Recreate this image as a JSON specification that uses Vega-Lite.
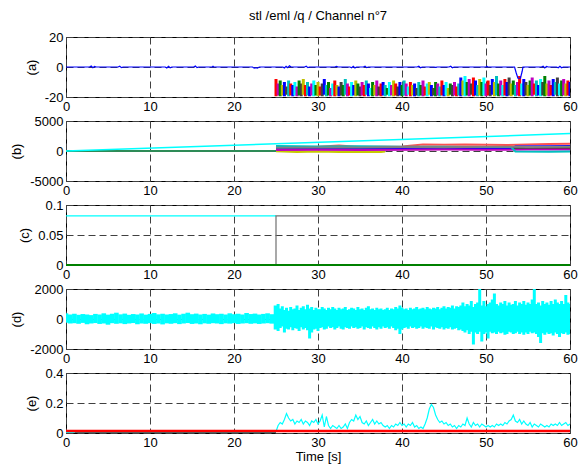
{
  "$schema": "https://vega.github.io/schema/vega-lite/v6.json",
  "padding": {"left": 10, "top": 9, "right": 6, "bottom": 2},
  "bounds": "flush",
  "spacing": 24,
  "background": "white",
  "resolve": {"scale": {"color": "independent"}},
  "config": {
    "view": {"stroke": "black", "strokeWidth": 1},
    "font": "Liberation Sans",
    "axis": {
      "labelFont": "Liberation Sans", "labelFontSize": 13, "labelColor": "#000",
      "ticks": false, "domain": false, "grid": true,
      "gridColor": "#404040", "gridDash": [7, 4], "gridOpacity": 1, "gridWidth": 1,
      "labelFlush": false, "labelOverlap": false, "labelPadding": 3,
      "titleFont": "Liberation Sans", "titleFontSize": 13, "titleFontWeight": "normal", "titleColor": "#000"
    },
    "axisX": {"titlePadding": 1},
    "axisY": {"titlePadding": 6}
  },
  "datasets": {
    "aBlue": [
      {"t":0,"v":0},{"t":2.8,"v":0},{"t":3,"v":0.6},{"t":3.2,"v":-0.5},{"t":3.4,"v":0.4},{"t":3.6,"v":0},
      {"t":6.2,"v":0},{"t":6.4,"v":0.5},{"t":6.6,"v":-0.4},{"t":6.8,"v":0},
      {"t":11.8,"v":0},{"t":12,"v":-0.6},{"t":12.2,"v":0.5},{"t":12.4,"v":-0.5},{"t":12.6,"v":0},
      {"t":15.2,"v":0},{"t":15.4,"v":0.6},{"t":15.6,"v":-0.4},{"t":15.8,"v":0},
      {"t":17.4,"v":0},{"t":17.5,"v":0.5},{"t":17.6,"v":0},
      {"t":22.2,"v":0},{"t":22.4,"v":-0.8},{"t":22.6,"v":-0.4},{"t":22.8,"v":-0.8},{"t":23,"v":0},
      {"t":25.8,"v":0},{"t":26,"v":-0.6},{"t":26.2,"v":0.5},{"t":26.4,"v":-0.4},{"t":26.6,"v":0.8},{"t":26.8,"v":0},
      {"t":28.4,"v":0},{"t":28.6,"v":0.5},{"t":28.8,"v":-0.4},{"t":29,"v":0},
      {"t":32,"v":0},{"t":32.2,"v":0.4},{"t":32.4,"v":0},
      {"t":33.8,"v":0},{"t":34,"v":-0.5},{"t":34.2,"v":0.4},{"t":34.4,"v":-0.6},{"t":34.6,"v":0},
      {"t":35.4,"v":0},{"t":35.6,"v":0.5},{"t":35.8,"v":-0.4},{"t":36,"v":0},
      {"t":41.8,"v":0},{"t":42,"v":0.5},{"t":42.2,"v":-0.5},{"t":42.4,"v":0},
      {"t":43.8,"v":0},{"t":44,"v":-0.3},{"t":44.2,"v":0},
      {"t":45.6,"v":0},{"t":45.8,"v":0.5},{"t":46,"v":-0.5},{"t":46.2,"v":0},
      {"t":50,"v":0},{"t":50.1,"v":0.5},{"t":50.2,"v":0},
      {"t":53.4,"v":0},{"t":53.6,"v":-4},{"t":53.8,"v":-7.5},{"t":54.1,"v":-7.5},{"t":54.3,"v":-3},{"t":54.4,"v":0},
      {"t":56.6,"v":0},{"t":56.8,"v":0.5},{"t":57,"v":-0.6},{"t":57.2,"v":0.4},{"t":57.4,"v":0},
      {"t":58.4,"v":0},{"t":58.6,"v":-0.5},{"t":58.8,"v":0.5},{"t":59,"v":-0.5},{"t":59.2,"v":0},{"t":60,"v":0}
    ],
    "aBand": [
      {"t":25,"lo":-19.5,"hi":-8,"c":0},{"t":25.25,"lo":-19,"hi":-11,"c":3},{"t":25.5,"lo":-19.5,"hi":-9,"c":1},{"t":25.75,"lo":-19,"hi":-12,"c":5},
      {"t":26,"lo":-19.5,"hi":-10,"c":2},{"t":26.25,"lo":-18.5,"hi":-13,"c":6},{"t":26.5,"lo":-19.5,"hi":-9,"c":4},{"t":26.75,"lo":-19,"hi":-11,"c":0},
      {"t":27,"lo":-19.5,"hi":-12,"c":2},{"t":27.25,"lo":-19,"hi":-10,"c":7},{"t":27.5,"lo":-19.5,"hi":-13,"c":3},{"t":27.75,"lo":-19,"hi":-9,"c":1},
      {"t":28,"lo":-19.5,"hi":-11,"c":6},{"t":28.25,"lo":-18.5,"hi":-8,"c":5},{"t":28.5,"lo":-19.5,"hi":-12,"c":0},{"t":28.75,"lo":-19,"hi":-10,"c":4},
      {"t":29,"lo":-19.5,"hi":-13,"c":2},{"t":29.25,"lo":-19,"hi":-11,"c":3},{"t":29.5,"lo":-19.5,"hi":-9,"c":7},{"t":29.75,"lo":-19,"hi":-12,"c":1},
      {"t":30,"lo":-19.5,"hi":-10,"c":5},{"t":30.25,"lo":-19,"hi":-13,"c":0},{"t":30.5,"lo":-19.5,"hi":-11,"c":6},{"t":30.75,"lo":-18.5,"hi":-8,"c":2},
      {"t":31,"lo":-19.5,"hi":-12,"c":4},{"t":31.25,"lo":-19,"hi":-10,"c":1},{"t":31.5,"lo":-19.5,"hi":-14,"c":3},{"t":31.75,"lo":-19,"hi":-11,"c":7},
      {"t":32,"lo":-19.5,"hi":-9,"c":0},{"t":32.25,"lo":-19,"hi":-12,"c":5},{"t":32.5,"lo":-19.5,"hi":-13,"c":2},{"t":32.75,"lo":-19,"hi":-10,"c":6},
      {"t":33,"lo":-19.5,"hi":-12,"c":1},{"t":33.25,"lo":-18.5,"hi":-8,"c":4},{"t":33.5,"lo":-19.5,"hi":-11,"c":3},{"t":33.75,"lo":-19,"hi":-13,"c":0},
      {"t":34,"lo":-19.5,"hi":-10,"c":7},{"t":34.25,"lo":-19,"hi":-12,"c":2},{"t":34.5,"lo":-19.5,"hi":-9,"c":5},{"t":34.75,"lo":-19,"hi":-11,"c":1},
      {"t":35,"lo":-19.5,"hi":-13,"c":6},{"t":35.25,"lo":-19,"hi":-10,"c":3},{"t":35.5,"lo":-19.5,"hi":-12,"c":0},{"t":35.75,"lo":-18.5,"hi":-9,"c":4},
      {"t":36,"lo":-19.5,"hi":-11,"c":2},{"t":36.25,"lo":-19,"hi":-14,"c":7},{"t":36.5,"lo":-19.5,"hi":-10,"c":1},{"t":36.75,"lo":-19,"hi":-12,"c":5},
      {"t":37,"lo":-19.5,"hi":-9,"c":3},{"t":37.25,"lo":-19,"hi":-13,"c":6},{"t":37.5,"lo":-19.5,"hi":-11,"c":0},{"t":37.75,"lo":-19,"hi":-10,"c":2},
      {"t":38,"lo":-19.5,"hi":-12,"c":4},{"t":38.25,"lo":-18.5,"hi":-14,"c":1},{"t":38.5,"lo":-19.5,"hi":-10,"c":7},{"t":38.75,"lo":-19,"hi":-12,"c":3},
      {"t":39,"lo":-19.5,"hi":-9,"c":5},{"t":39.25,"lo":-19,"hi":-11,"c":0},{"t":39.5,"lo":-19.5,"hi":-13,"c":6},{"t":39.75,"lo":-19,"hi":-10,"c":2},
      {"t":40,"lo":-19.5,"hi":-12,"c":1},{"t":40.25,"lo":-19,"hi":-9,"c":4},{"t":40.5,"lo":-19.5,"hi":-11,"c":3},{"t":40.75,"lo":-18.5,"hi":-13,"c":7},
      {"t":41,"lo":-19.5,"hi":-10,"c":0},{"t":41.25,"lo":-19,"hi":-12,"c":5},{"t":41.5,"lo":-19.5,"hi":-11,"c":2},{"t":41.75,"lo":-19,"hi":-14,"c":6},
      {"t":42,"lo":-19.5,"hi":-10,"c":4},{"t":42.25,"lo":-19,"hi":-12,"c":1},{"t":42.5,"lo":-19.5,"hi":-9,"c":3},{"t":42.75,"lo":-19,"hi":-13,"c":0},
      {"t":43,"lo":-19.5,"hi":-11,"c":7},{"t":43.25,"lo":-18.5,"hi":-10,"c":5},{"t":43.5,"lo":-19.5,"hi":-12,"c":2},{"t":43.75,"lo":-19,"hi":-14,"c":6},
      {"t":44,"lo":-19.5,"hi":-10,"c":1},{"t":44.25,"lo":-19,"hi":-11,"c":3},{"t":44.5,"lo":-19.5,"hi":-13,"c":4},{"t":44.75,"lo":-19,"hi":-9,"c":0},
      {"t":45,"lo":-19.5,"hi":-12,"c":2},{"t":45.25,"lo":-19,"hi":-10,"c":7},{"t":45.5,"lo":-19.5,"hi":-14,"c":5},{"t":45.75,"lo":-18.5,"hi":-11,"c":1},
      {"t":46,"lo":-19.5,"hi":-12,"c":6},{"t":46.25,"lo":-19,"hi":-10,"c":3},{"t":46.5,"lo":-19.5,"hi":-13,"c":0},{"t":46.75,"lo":-19,"hi":-11,"c":4},
      {"t":47,"lo":-19.5,"hi":-7,"c":2},{"t":47.25,"lo":-19,"hi":-9,"c":5},{"t":47.5,"lo":-19.5,"hi":-6,"c":7},{"t":47.75,"lo":-19,"hi":-10,"c":1},
      {"t":48,"lo":-19.5,"hi":-8,"c":3},{"t":48.25,"lo":-18.5,"hi":-11,"c":6},{"t":48.5,"lo":-19.5,"hi":-7,"c":0},{"t":48.75,"lo":-19,"hi":-9,"c":2},
      {"t":49,"lo":-19.5,"hi":-12,"c":4},{"t":49.25,"lo":-19,"hi":-8,"c":5},{"t":49.5,"lo":-19.5,"hi":-10,"c":1},{"t":49.75,"lo":-19,"hi":-7,"c":7},
      {"t":50,"lo":-19.5,"hi":-11,"c":3},{"t":50.25,"lo":-19,"hi":-9,"c":0},{"t":50.5,"lo":-19.5,"hi":-12,"c":6},{"t":50.75,"lo":-18.5,"hi":-8,"c":2},
      {"t":51,"lo":-19.5,"hi":-10,"c":5},{"t":51.25,"lo":-19,"hi":-6,"c":4},{"t":51.5,"lo":-19.5,"hi":-11,"c":1},{"t":51.75,"lo":-19,"hi":-9,"c":3},
      {"t":52,"lo":-19.5,"hi":-12,"c":7},{"t":52.25,"lo":-19,"hi":-8,"c":0},{"t":52.5,"lo":-19.5,"hi":-10,"c":2},{"t":52.75,"lo":-19,"hi":-7,"c":6},
      {"t":53,"lo":-19.5,"hi":-11,"c":5},{"t":53.25,"lo":-18.5,"hi":-9,"c":1},{"t":53.5,"lo":-19.5,"hi":-12,"c":4},{"t":53.75,"lo":-19,"hi":-10,"c":3},
      {"t":54,"lo":-19.5,"hi":-6,"c":0},{"t":54.25,"lo":-19,"hi":-11,"c":7},{"t":54.5,"lo":-19.5,"hi":-8,"c":2},{"t":54.75,"lo":-19,"hi":-10,"c":6},
      {"t":55,"lo":-19.5,"hi":-12,"c":5},{"t":55.25,"lo":-19,"hi":-9,"c":1},{"t":55.5,"lo":-19.5,"hi":-7,"c":3},{"t":55.75,"lo":-18.5,"hi":-11,"c":0},
      {"t":56,"lo":-19.5,"hi":-9,"c":4},{"t":56.25,"lo":-19,"hi":-12,"c":2},{"t":56.5,"lo":-19.5,"hi":-8,"c":7},{"t":56.75,"lo":-19,"hi":-10,"c":6},
      {"t":57,"lo":-19.5,"hi":-6,"c":1},{"t":57.25,"lo":-19,"hi":-11,"c":5},{"t":57.5,"lo":-19.5,"hi":-9,"c":3},{"t":57.75,"lo":-19,"hi":-12,"c":0},
      {"t":58,"lo":-19.5,"hi":-8,"c":2},{"t":58.25,"lo":-18.5,"hi":-10,"c":4},{"t":58.5,"lo":-19.5,"hi":-7,"c":6},{"t":58.75,"lo":-19,"hi":-11,"c":7},
      {"t":59,"lo":-19.5,"hi":-9,"c":1},{"t":59.25,"lo":-19,"hi":-8,"c":3},{"t":59.5,"lo":-19.5,"hi":-11,"c":5},{"t":59.75,"lo":-19,"hi":-9,"c":0},
      {"t":60,"lo":-19.5,"hi":-10,"c":2}
    ],
    "bBand": [
      {"s":"g0","t":0,"v":0},{"s":"g0","t":25,"v":0},
      {"s":"m","t":25,"v":300},{"s":"m","t":27.5,"v":250},{"s":"m","t":30,"v":320},{"s":"m","t":32.5,"v":280},{"s":"m","t":35,"v":350},{"s":"m","t":37.5,"v":300},{"s":"m","t":40,"v":330},{"s":"m","t":42.5,"v":280},{"s":"m","t":45,"v":350},{"s":"m","t":47.5,"v":320},{"s":"m","t":50,"v":300},{"s":"m","t":52.5,"v":350},{"s":"m","t":55,"v":320},{"s":"m","t":57.5,"v":380},{"s":"m","t":60,"v":350},
      {"s":"r","t":25,"v":650},{"s":"r","t":27.5,"v":600},{"s":"r","t":30,"v":700},{"s":"r","t":32.5,"v":900},{"s":"r","t":35,"v":650},{"s":"r","t":37.5,"v":700},{"s":"r","t":40,"v":750},{"s":"r","t":42.5,"v":1100},{"s":"r","t":45,"v":1050},{"s":"r","t":47.5,"v":1100},{"s":"r","t":50,"v":1050},{"s":"r","t":52.5,"v":1000},{"s":"r","t":55,"v":1100},{"s":"r","t":57.5,"v":1150},{"s":"r","t":60,"v":1200},
      {"s":"g","t":25,"v":450},{"s":"g","t":27.5,"v":500},{"s":"g","t":30,"v":480},{"s":"g","t":32.5,"v":520},{"s":"g","t":35,"v":470},{"s":"g","t":37.5,"v":550},{"s":"g","t":40,"v":600},{"s":"g","t":42.5,"v":550},{"s":"g","t":45,"v":580},{"s":"g","t":47.5,"v":520},{"s":"g","t":50,"v":600},{"s":"g","t":52.5,"v":550},{"s":"g","t":55,"v":500},{"s":"g","t":57.5,"v":560},{"s":"g","t":60,"v":600},
      {"s":"y","t":25,"v":-50},{"s":"y","t":27.5,"v":-150},{"s":"y","t":30,"v":-100},{"s":"y","t":32.5,"v":-180},{"s":"y","t":35,"v":-120},{"s":"y","t":37.5,"v":-150},{"s":"y","t":38,"v":-100},
      {"s":"b","t":25,"v":380},{"s":"b","t":30,"v":400},{"s":"b","t":35,"v":420},{"s":"b","t":40,"v":380},{"s":"b","t":45,"v":420},{"s":"b","t":50,"v":400},{"s":"b","t":53,"v":420},{"s":"b","t":53.5,"v":750},{"s":"b","t":57.5,"v":800},{"s":"b","t":60,"v":850},
      {"s":"p","t":25,"v":150},{"s":"p","t":30,"v":200},{"s":"p","t":35,"v":180},{"s":"p","t":40,"v":220},{"s":"p","t":45,"v":250},{"s":"p","t":50,"v":200},{"s":"p","t":55,"v":230},{"s":"p","t":60,"v":250},
      {"s":"c","t":25,"v":850},{"s":"c","t":27.5,"v":800},{"s":"c","t":30,"v":750},{"s":"c","t":35,"v":780},{"s":"c","t":40,"v":700},{"s":"c","t":45,"v":720},{"s":"c","t":50,"v":680},{"s":"c","t":53,"v":650},{"s":"c","t":53.5,"v":-100},{"s":"c","t":57.5,"v":-120},{"s":"c","t":60,"v":-100},
      {"s":"k","t":25,"v":550},{"s":"k","t":30,"v":600},{"s":"k","t":35,"v":580},{"s":"k","t":40,"v":650},{"s":"k","t":45,"v":620},{"s":"k","t":50,"v":700},{"s":"k","t":55,"v":680},{"s":"k","t":60,"v":720}
    ],
    "bCyan": [{"t":0,"v":0},{"t":60,"v":2900}],
    "cCyan": [{"t":0,"v":0.082},{"t":25,"v":0.082}],
    "cGray": [{"t":25,"v":0,"o":1},{"t":25,"v":0.082,"o":2},{"t":60,"v":0.082,"o":3}],
    "cGreen": [{"t":0,"v":0},{"t":60,"v":0}],
    "dEarly": [
      {"t":0,"lo":-250,"hi":380},{"t":0.5,"lo":-300,"hi":300},{"t":1,"lo":-280,"hi":350},{"t":1.5,"lo":-320,"hi":280},{"t":2,"lo":-260,"hi":330},
      {"t":2.5,"lo":-350,"hi":300},{"t":3,"lo":-300,"hi":260},{"t":3.5,"lo":-270,"hi":340},{"t":4,"lo":-330,"hi":300},{"t":4.5,"lo":-300,"hi":380},
      {"t":5,"lo":-380,"hi":290},{"t":5.5,"lo":-280,"hi":350},{"t":6,"lo":-320,"hi":420},{"t":6.5,"lo":-290,"hi":310},{"t":7,"lo":-340,"hi":360},
      {"t":7.5,"lo":-300,"hi":280},{"t":8,"lo":-270,"hi":330},{"t":8.5,"lo":-350,"hi":300},{"t":9,"lo":-300,"hi":370},{"t":9.5,"lo":-320,"hi":290},
      {"t":10,"lo":-280,"hi":340},{"t":10.5,"lo":-330,"hi":400},{"t":11,"lo":-300,"hi":310},{"t":11.5,"lo":-360,"hi":350},{"t":12,"lo":-290,"hi":300},
      {"t":12.5,"lo":-320,"hi":330},{"t":13,"lo":-280,"hi":380},{"t":13.5,"lo":-340,"hi":290},{"t":14,"lo":-300,"hi":350},{"t":14.5,"lo":-270,"hi":420},
      {"t":15,"lo":-330,"hi":320},{"t":15.5,"lo":-300,"hi":360},{"t":16,"lo":-350,"hi":300},{"t":16.5,"lo":-290,"hi":340},{"t":17,"lo":-320,"hi":290},
      {"t":17.5,"lo":-280,"hi":370},{"t":18,"lo":-300,"hi":320},{"t":18.5,"lo":-340,"hi":350},{"t":19,"lo":-290,"hi":300},{"t":19.5,"lo":-310,"hi":380},
      {"t":20,"lo":-280,"hi":320},{"t":20.5,"lo":-330,"hi":350},{"t":21,"lo":-300,"hi":300},{"t":21.5,"lo":-280,"hi":400},{"t":22,"lo":-320,"hi":330},
      {"t":22.5,"lo":-290,"hi":360},{"t":23,"lo":-330,"hi":300},{"t":23.5,"lo":-300,"hi":340},{"t":24,"lo":-280,"hi":380},{"t":24.5,"lo":-310,"hi":320},
      {"t":25,"lo":-700,"hi":900}
    ],
    "dLate": [
      {"t":25.25,"lo":-800,"hi":1000},{"t":25.5,"lo":-600,"hi":700},{"t":25.75,"lo":-500,"hi":850},{"t":26,"lo":-900,"hi":600},
      {"t":26.25,"lo":-650,"hi":750},{"t":26.5,"lo":-700,"hi":550},{"t":26.75,"lo":-550,"hi":800},{"t":27,"lo":-750,"hi":650},
      {"t":27.25,"lo":-600,"hi":700},{"t":27.5,"lo":-650,"hi":900},{"t":27.75,"lo":-800,"hi":600},{"t":28,"lo":-550,"hi":750},
      {"t":28.25,"lo":-700,"hi":850},{"t":28.5,"lo":-600,"hi":650},{"t":28.75,"lo":-750,"hi":950},{"t":29,"lo":-1300,"hi":700},
      {"t":29.25,"lo":-900,"hi":800},{"t":29.5,"lo":-700,"hi":600},{"t":29.75,"lo":-650,"hi":750},{"t":30,"lo":-800,"hi":650},
      {"t":30.25,"lo":-600,"hi":650},{"t":30.5,"lo":-550,"hi":800},{"t":30.75,"lo":-700,"hi":700},{"t":31,"lo":-650,"hi":600},
      {"t":31.25,"lo":-500,"hi":750},{"t":31.5,"lo":-600,"hi":650},{"t":31.75,"lo":-550,"hi":800},{"t":32,"lo":-700,"hi":700},
      {"t":32.25,"lo":-600,"hi":600},{"t":32.5,"lo":-500,"hi":750},{"t":32.75,"lo":-650,"hi":650},{"t":33,"lo":-700,"hi":700},
      {"t":33.25,"lo":-550,"hi":800},{"t":33.5,"lo":-600,"hi":600},{"t":33.75,"lo":-650,"hi":650},{"t":34,"lo":-500,"hi":750},
      {"t":34.25,"lo":-600,"hi":700},{"t":34.5,"lo":-550,"hi":600},{"t":34.75,"lo":-650,"hi":800},{"t":35,"lo":-600,"hi":650},
      {"t":35.25,"lo":-500,"hi":700},{"t":35.5,"lo":-700,"hi":600},{"t":35.75,"lo":-550,"hi":750},{"t":36,"lo":-600,"hi":850},
      {"t":36.25,"lo":-650,"hi":650},{"t":36.5,"lo":-500,"hi":700},{"t":36.75,"lo":-600,"hi":600},{"t":37,"lo":-700,"hi":750},
      {"t":37.25,"lo":-550,"hi":650},{"t":37.5,"lo":-650,"hi":700},{"t":37.75,"lo":-500,"hi":600},{"t":38,"lo":-600,"hi":650},
      {"t":38.25,"lo":-550,"hi":750},{"t":38.5,"lo":-650,"hi":600},{"t":38.75,"lo":-500,"hi":700},{"t":39,"lo":-600,"hi":650},
      {"t":39.25,"lo":-750,"hi":800},{"t":39.5,"lo":-650,"hi":700},{"t":39.75,"lo":-1000,"hi":900},{"t":40,"lo":-700,"hi":750},
      {"t":40.25,"lo":-600,"hi":650},{"t":40.5,"lo":-550,"hi":700},{"t":40.75,"lo":-650,"hi":600},{"t":41,"lo":-500,"hi":750},
      {"t":41.25,"lo":-600,"hi":650},{"t":41.5,"lo":-550,"hi":700},{"t":41.75,"lo":-650,"hi":800},{"t":42,"lo":-600,"hi":650},
      {"t":42.25,"lo":-500,"hi":700},{"t":42.5,"lo":-650,"hi":750},{"t":42.75,"lo":-550,"hi":650},{"t":43,"lo":-600,"hi":800},
      {"t":43.25,"lo":-650,"hi":700},{"t":43.5,"lo":-500,"hi":650},{"t":43.75,"lo":-700,"hi":750},{"t":44,"lo":-550,"hi":700},
      {"t":44.25,"lo":-600,"hi":800},{"t":44.5,"lo":-650,"hi":650},{"t":44.75,"lo":-550,"hi":750},{"t":45,"lo":-700,"hi":850},
      {"t":45.25,"lo":-600,"hi":700},{"t":45.5,"lo":-650,"hi":800},{"t":45.75,"lo":-550,"hi":750},{"t":46,"lo":-700,"hi":900},
      {"t":46.25,"lo":-650,"hi":700},{"t":46.5,"lo":-600,"hi":850},{"t":46.75,"lo":-750,"hi":800},{"t":47,"lo":-700,"hi":900},
      {"t":47.25,"lo":-800,"hi":1100},{"t":47.5,"lo":-900,"hi":850},{"t":47.75,"lo":-750,"hi":1000},{"t":48,"lo":-1000,"hi":900},
      {"t":48.25,"lo":-850,"hi":1200},{"t":48.5,"lo":-1700,"hi":800},{"t":48.75,"lo":-900,"hi":1000},{"t":49,"lo":-1000,"hi":1100},
      {"t":49.25,"lo":-850,"hi":2000},{"t":49.5,"lo":-1500,"hi":900},{"t":49.75,"lo":-1000,"hi":1200},{"t":50,"lo":-900,"hi":850},
      {"t":50.25,"lo":-1300,"hi":1000},{"t":50.5,"lo":-850,"hi":1100},{"t":50.75,"lo":-950,"hi":1300},{"t":51,"lo":-900,"hi":1700},
      {"t":51.25,"lo":-1000,"hi":1000},{"t":51.5,"lo":-850,"hi":900},{"t":51.75,"lo":-950,"hi":1100},{"t":52,"lo":-900,"hi":1000},
      {"t":52.25,"lo":-1050,"hi":1200},{"t":52.5,"lo":-1000,"hi":900},{"t":52.75,"lo":-850,"hi":1100},{"t":53,"lo":-900,"hi":950},
      {"t":53.25,"lo":-1000,"hi":1000},{"t":53.5,"lo":-950,"hi":1200},{"t":53.75,"lo":-850,"hi":900},{"t":54,"lo":-1000,"hi":1100},
      {"t":54.25,"lo":-900,"hi":1000},{"t":54.5,"lo":-1050,"hi":1200},{"t":54.75,"lo":-900,"hi":950},{"t":55,"lo":-1000,"hi":1100},
      {"t":55.25,"lo":-850,"hi":1000},{"t":55.5,"lo":-950,"hi":1300},{"t":55.75,"lo":-900,"hi":2000},{"t":56,"lo":-1000,"hi":1000},
      {"t":56.25,"lo":-1200,"hi":1100},{"t":56.5,"lo":-1600,"hi":900},{"t":56.75,"lo":-950,"hi":1200},{"t":57,"lo":-1050,"hi":1000},
      {"t":57.25,"lo":-900,"hi":1100},{"t":57.5,"lo":-1000,"hi":950},{"t":57.75,"lo":-950,"hi":1200},{"t":58,"lo":-1100,"hi":1000},
      {"t":58.25,"lo":-900,"hi":1300},{"t":58.5,"lo":-1000,"hi":1100},{"t":58.75,"lo":-1200,"hi":1000},{"t":59,"lo":-950,"hi":1200},
      {"t":59.25,"lo":-1000,"hi":1000},{"t":59.5,"lo":-900,"hi":1600},{"t":59.75,"lo":-1050,"hi":1100},{"t":60,"lo":-1000,"hi":1000}
    ],
    "eCyan": [
      {"t":25,"v":0.01},{"t":25.25,"v":0.05},{"t":25.5,"v":0.07},{"t":25.75,"v":0.06},{"t":26,"v":0.09},{"t":26.25,"v":0.13},{"t":26.5,"v":0.1},{"t":26.75,"v":0.08},
      {"t":27,"v":0.09},{"t":27.25,"v":0.06},{"t":27.5,"v":0.08},{"t":27.75,"v":0.07},{"t":28,"v":0.09},{"t":28.25,"v":0.06},{"t":28.5,"v":0.08},{"t":28.75,"v":0.07},
      {"t":29,"v":0.05},{"t":29.25,"v":0.08},{"t":29.5,"v":0.07},{"t":29.75,"v":0.09},{"t":30,"v":0.06},{"t":30.25,"v":0.08},{"t":30.5,"v":0.12},{"t":30.75,"v":0.04},
      {"t":31,"v":0.11},{"t":31.25,"v":0.05},{"t":31.5,"v":0.03},{"t":31.75,"v":0.05},{"t":32,"v":0.04},{"t":32.25,"v":0.03},{"t":32.5,"v":0.05},{"t":32.75,"v":0.03},
      {"t":33,"v":0.04},{"t":33.25,"v":0.06},{"t":33.5,"v":0.03},{"t":33.75,"v":0.07},{"t":34,"v":0.09},{"t":34.25,"v":0.08},{"t":34.5,"v":0.12},{"t":34.75,"v":0.09},
      {"t":35,"v":0.11},{"t":35.25,"v":0.07},{"t":35.5,"v":0.06},{"t":35.75,"v":0.08},{"t":36,"v":0.05},{"t":36.25,"v":0.07},{"t":36.5,"v":0.09},{"t":36.75,"v":0.06},
      {"t":37,"v":0.08},{"t":37.25,"v":0.06},{"t":37.5,"v":0.07},{"t":37.75,"v":0.05},{"t":38,"v":0.04},{"t":38.25,"v":0.05},{"t":38.5,"v":0.03},{"t":38.75,"v":0.05},
      {"t":39,"v":0.04},{"t":39.25,"v":0.06},{"t":39.5,"v":0.05},{"t":39.75,"v":0.07},{"t":40,"v":0.05},{"t":40.25,"v":0.06},{"t":40.5,"v":0.04},{"t":40.75,"v":0.06},
      {"t":41,"v":0.05},{"t":41.25,"v":0.07},{"t":41.5,"v":0.04},{"t":41.75,"v":0.05},{"t":42,"v":0.03},{"t":42.25,"v":0.04},{"t":42.5,"v":0.03},{"t":42.75,"v":0.06},
      {"t":43,"v":0.1},{"t":43.25,"v":0.16},{"t":43.5,"v":0.19},{"t":43.75,"v":0.17},{"t":44,"v":0.12},{"t":44.25,"v":0.09},{"t":44.5,"v":0.07},{"t":44.75,"v":0.08},
      {"t":45,"v":0.06},{"t":45.25,"v":0.07},{"t":45.5,"v":0.05},{"t":45.75,"v":0.06},{"t":46,"v":0.04},{"t":46.25,"v":0.05},{"t":46.5,"v":0.03},{"t":46.75,"v":0.05},
      {"t":47,"v":0.04},{"t":47.25,"v":0.06},{"t":47.5,"v":0.05},{"t":47.75,"v":0.1},{"t":48,"v":0.06},{"t":48.25,"v":0.04},{"t":48.5,"v":0.07},{"t":48.75,"v":0.05},
      {"t":49,"v":0.06},{"t":49.25,"v":0.04},{"t":49.5,"v":0.06},{"t":49.75,"v":0.05},{"t":50,"v":0.04},{"t":50.25,"v":0.05},{"t":50.5,"v":0.04},{"t":50.75,"v":0.05},
      {"t":51,"v":0.04},{"t":51.25,"v":0.06},{"t":51.5,"v":0.05},{"t":51.75,"v":0.06},{"t":52,"v":0.05},{"t":52.25,"v":0.07},{"t":52.5,"v":0.06},{"t":52.75,"v":0.08},
      {"t":53,"v":0.09},{"t":53.25,"v":0.12},{"t":53.5,"v":0.08},{"t":53.75,"v":0.07},{"t":54,"v":0.09},{"t":54.25,"v":0.06},{"t":54.5,"v":0.08},{"t":54.75,"v":0.06},
      {"t":55,"v":0.05},{"t":55.25,"v":0.07},{"t":55.5,"v":0.04},{"t":55.75,"v":0.06},{"t":56,"v":0.05},{"t":56.25,"v":0.04},{"t":56.5,"v":0.06},{"t":56.75,"v":0.05},
      {"t":57,"v":0.04},{"t":57.25,"v":0.05},{"t":57.5,"v":0.04},{"t":57.75,"v":0.06},{"t":58,"v":0.05},{"t":58.25,"v":0.06},{"t":58.5,"v":0.05},{"t":58.75,"v":0.07},
      {"t":59,"v":0.05},{"t":59.25,"v":0.06},{"t":59.5,"v":0.07},{"t":59.75,"v":0.05},{"t":60,"v":0.06}
    ],
    "eStart": [{"t":0,"v":0.004},{"t":1,"v":0.004}],
    "eTeal": [{"t":1,"v":0.003},{"t":25,"v":0.003}],
    "eRed": [{"t":0,"v":0.014},{"t":60,"v":0.014}]
  },
  "vconcat": [
    {
      "width": 504, "height": 60,
      "title": {"text": "stl /eml /q / Channel n°7", "font": "Liberation Sans", "fontSize": 13, "fontWeight": "normal", "color": "#000", "frame": "group", "anchor": "middle", "offset": 8},
      "layer": [
        {
          "data": {"name": "aBand"},
          "mark": {"type": "rule", "strokeWidth": 3, "strokeCap": "butt", "clip": true},
          "encoding": {
            "x": {"field": "t", "type": "quantitative", "scale": {"domain": [0, 60], "nice": false}, "axis": {"values": [0, 10, 20, 30, 40, 50, 60], "title": null}},
            "y": {"field": "lo", "type": "quantitative", "scale": {"domain": [-20, 20], "nice": false}, "axis": {"values": [-20, 0, 20], "title": "(a)", "labelExpr": "'' + datum.value"}},
            "y2": {"field": "hi"},
            "color": {"field": "c", "type": "nominal", "legend": null, "scale": {"domain": [0, 1, 2, 3, 4, 5, 6, 7], "range": ["#ff0000", "#008000", "#0000ff", "#bf00bf", "#00bfbf", "#bfbf00", "#404040", "#00ffff"]}}
          }
        },
        {
          "data": {"name": "aBlue"},
          "mark": {"type": "line", "color": "#0000ff", "strokeWidth": 1.2, "clip": true},
          "encoding": {
            "x": {"field": "t", "type": "quantitative", "scale": {"domain": [0, 60], "nice": false}, "axis": {"values": [0, 10, 20, 30, 40, 50, 60], "title": null}},
            "y": {"field": "v", "type": "quantitative", "scale": {"domain": [-20, 20], "nice": false}, "axis": {"values": [-20, 0, 20], "title": "(a)", "labelExpr": "'' + datum.value"}}
          }
        }
      ]
    },
    {
      "width": 504, "height": 60,
      "layer": [
        {
          "data": {"name": "bBand"},
          "mark": {"type": "line", "strokeWidth": 2, "clip": true},
          "encoding": {
            "x": {"field": "t", "type": "quantitative", "scale": {"domain": [0, 60], "nice": false}, "axis": {"values": [0, 10, 20, 30, 40, 50, 60], "title": null}},
            "y": {"field": "v", "type": "quantitative", "scale": {"domain": [-5000, 5000], "nice": false}, "axis": {"values": [-5000, 0, 5000], "title": "(b)", "labelExpr": "'' + datum.value"}},
            "color": {"field": "s", "type": "nominal", "legend": null, "scale": {"domain": ["g0", "y", "p", "m", "b", "g", "k", "r", "c"], "range": ["#2e8b57", "#c8c800", "#bf00bf", "#8b0000", "#0000ff", "#008000", "#808080", "#ff5050", "#00bfbf"]}}
          }
        },
        {
          "data": {"name": "bCyan"},
          "mark": {"type": "line", "color": "#00ffff", "strokeWidth": 1.5, "clip": true},
          "encoding": {
            "x": {"field": "t", "type": "quantitative", "scale": {"domain": [0, 60], "nice": false}, "axis": {"values": [0, 10, 20, 30, 40, 50, 60], "title": null}},
            "y": {"field": "v", "type": "quantitative", "scale": {"domain": [-5000, 5000], "nice": false}, "axis": {"values": [-5000, 0, 5000], "title": "(b)", "labelExpr": "'' + datum.value"}}
          }
        }
      ]
    },
    {
      "width": 504, "height": 60,
      "layer": [
        {
          "data": {"name": "cCyan"},
          "mark": {"type": "line", "color": "#00ffff", "strokeWidth": 1.2},
          "encoding": {
            "x": {"field": "t", "type": "quantitative", "scale": {"domain": [0, 60], "nice": false}, "axis": {"values": [0, 10, 20, 30, 40, 50, 60], "title": null}},
            "y": {"field": "v", "type": "quantitative", "scale": {"domain": [0, 0.1], "nice": false}, "axis": {"values": [0, 0.05, 0.1], "title": "(c)", "labelExpr": "'' + datum.value"}}
          }
        },
        {
          "data": {"name": "cGray"},
          "mark": {"type": "line", "color": "#707070", "strokeWidth": 1.2},
          "encoding": {
            "x": {"field": "t", "type": "quantitative", "scale": {"domain": [0, 60], "nice": false}, "axis": {"values": [0, 10, 20, 30, 40, 50, 60], "title": null}},
            "y": {"field": "v", "type": "quantitative", "scale": {"domain": [0, 0.1], "nice": false}, "axis": {"values": [0, 0.05, 0.1], "title": "(c)", "labelExpr": "'' + datum.value"}},
            "order": {"field": "o", "type": "quantitative"}
          }
        },
        {
          "data": {"name": "cGreen"},
          "mark": {"type": "line", "color": "#008000", "strokeWidth": 2},
          "encoding": {
            "x": {"field": "t", "type": "quantitative", "scale": {"domain": [0, 60], "nice": false}, "axis": {"values": [0, 10, 20, 30, 40, 50, 60], "title": null}},
            "y": {"field": "v", "type": "quantitative", "scale": {"domain": [0, 0.1], "nice": false}, "axis": {"values": [0, 0.05, 0.1], "title": "(c)", "labelExpr": "'' + datum.value"}}
          }
        }
      ]
    },
    {
      "width": 504, "height": 60,
      "layer": [
        {
          "data": {"name": "dEarly"},
          "mark": {"type": "rule", "color": "#00ffff", "strokeWidth": 4.6, "strokeCap": "butt", "clip": true},
          "encoding": {
            "x": {"field": "t", "type": "quantitative", "scale": {"domain": [0, 60], "nice": false}, "axis": {"values": [0, 10, 20, 30, 40, 50, 60], "title": null}},
            "y": {"field": "lo", "type": "quantitative", "scale": {"domain": [-2000, 2000], "nice": false}, "axis": {"values": [-2000, 0, 2000], "title": "(d)", "labelExpr": "'' + datum.value"}},
            "y2": {"field": "hi"}
          }
        },
        {
          "data": {"name": "dLate"},
          "mark": {"type": "rule", "color": "#00ffff", "strokeWidth": 3, "strokeCap": "butt", "clip": true},
          "encoding": {
            "x": {"field": "t", "type": "quantitative", "scale": {"domain": [0, 60], "nice": false}, "axis": {"values": [0, 10, 20, 30, 40, 50, 60], "title": null}},
            "y": {"field": "lo", "type": "quantitative", "scale": {"domain": [-2000, 2000], "nice": false}, "axis": {"values": [-2000, 0, 2000], "title": "(d)", "labelExpr": "'' + datum.value"}},
            "y2": {"field": "hi"}
          }
        }
      ]
    },
    {
      "width": 504, "height": 60,
      "layer": [
        {
          "data": {"name": "eTeal"},
          "mark": {"type": "line", "color": "#2a7a7a", "strokeWidth": 1.5, "clip": true},
          "encoding": {
            "x": {"field": "t", "type": "quantitative", "scale": {"domain": [0, 60], "nice": false}, "axis": {"values": [0, 10, 20, 30, 40, 50, 60], "title": "Time [s]"}},
            "y": {"field": "v", "type": "quantitative", "scale": {"domain": [0, 0.4], "nice": false}, "axis": {"values": [0, 0.2, 0.4], "title": "(e)", "labelExpr": "'' + datum.value"}}
          }
        },
        {
          "data": {"name": "eStart"},
          "mark": {"type": "line", "color": "#00ffff", "strokeWidth": 1.5, "clip": true},
          "encoding": {
            "x": {"field": "t", "type": "quantitative", "scale": {"domain": [0, 60], "nice": false}, "axis": {"values": [0, 10, 20, 30, 40, 50, 60], "title": "Time [s]"}},
            "y": {"field": "v", "type": "quantitative", "scale": {"domain": [0, 0.4], "nice": false}, "axis": {"values": [0, 0.2, 0.4], "title": "(e)", "labelExpr": "'' + datum.value"}}
          }
        },
        {
          "data": {"name": "eCyan"},
          "mark": {"type": "line", "color": "#00ffff", "strokeWidth": 1.2, "clip": true},
          "encoding": {
            "x": {"field": "t", "type": "quantitative", "scale": {"domain": [0, 60], "nice": false}, "axis": {"values": [0, 10, 20, 30, 40, 50, 60], "title": "Time [s]"}},
            "y": {"field": "v", "type": "quantitative", "scale": {"domain": [0, 0.4], "nice": false}, "axis": {"values": [0, 0.2, 0.4], "title": "(e)", "labelExpr": "'' + datum.value"}}
          }
        },
        {
          "data": {"name": "eRed"},
          "mark": {"type": "line", "color": "#ff0000", "strokeWidth": 2.5, "clip": true},
          "encoding": {
            "x": {"field": "t", "type": "quantitative", "scale": {"domain": [0, 60], "nice": false}, "axis": {"values": [0, 10, 20, 30, 40, 50, 60], "title": "Time [s]"}},
            "y": {"field": "v", "type": "quantitative", "scale": {"domain": [0, 0.4], "nice": false}, "axis": {"values": [0, 0.2, 0.4], "title": "(e)", "labelExpr": "'' + datum.value"}}
          }
        }
      ]
    }
  ]
}
